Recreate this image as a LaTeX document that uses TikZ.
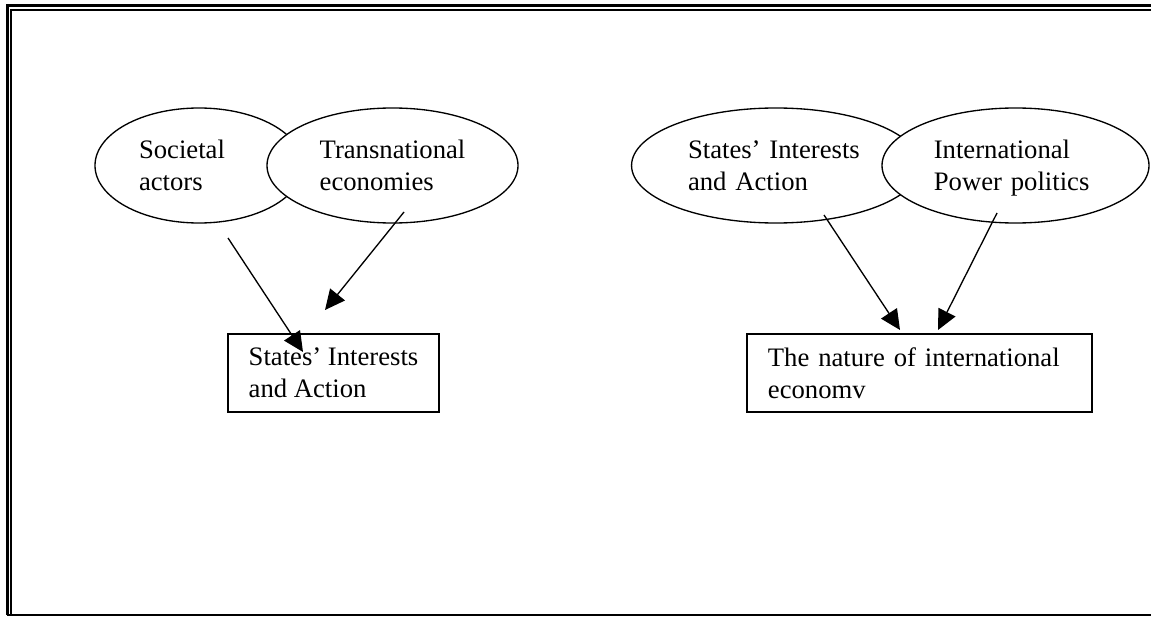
\documentclass[tikz,border=0pt]{standalone}
\usepackage{fontspec}
\setmainfont{Liberation Serif}
\usetikzlibrary{shapes.geometric,arrows.meta}

\begin{document}
\begin{tikzpicture}[
    x=0.45pt, y=-0.45pt,
    every node/.style={font=\fontsize{12}{14.2}\selectfont, align=left},
    oval/.style={ellipse, draw, fill=white, line width=0.6pt, minimum height=51.75pt, inner sep=0pt},
    panel/.style={rectangle, draw, line width=0.6pt, minimum height=35.1pt, inner sep=0pt},
    link/.style={-{Triangle[length=9pt,width=8.5pt]}, line width=0.6pt}
]
\useasboundingbox (0,0) rectangle (1151,617);
% page frame
\draw[line width=1pt] (1151,5.5) -- (7.5,5.5) -- (7.5,615);
\draw[line width=0.8pt] (1151,10) -- (11,10) -- (11,615);
\draw[line width=1.1pt] (7,615) -- (1151,615);

% left half
\node[oval, minimum width=93.6pt, text width=54pt] (societal) at (199,165.5) {Societal\\actors};
\node[oval, minimum width=112.95pt] (transnational) at (392.5,165.5) {Transnational\\economies};
\node[panel, minimum width=94.95pt] (interests) at (333.5,373) {States' Interests\\and Action};

% right half
\node[oval, minimum width=130pt, text width=79.2pt] (states) at (776,165.5) {States' Interests\\and Action};
\node[oval, minimum width=120.15pt, text width=73.5pt] (power) at (1015.5,165.5) {International\\\raisebox{0pt}[\height][0pt]{Power politics}};
\node[panel, minimum width=155.25pt, text width=136.4pt] (economy) at (919.5,373) {The nature of international\\economv};

\coordinate (societal-out) at (228,238);
\coordinate (societal-in) at (303,352);
\coordinate (transnational-out) at (404,212);
\coordinate (transnational-in) at (325,310);
\coordinate (states-out) at (824,215);
\coordinate (states-in) at (900,330);
\coordinate (power-out) at (997,213);
\coordinate (power-in) at (938,330);

\draw[link] (societal-out) -- (societal-in);
\draw[link] (transnational-out) -- (transnational-in);
\draw[link] (states-out) -- (states-in);
\draw[link] (power-out) -- (power-in);
\end{tikzpicture}
\end{document}
